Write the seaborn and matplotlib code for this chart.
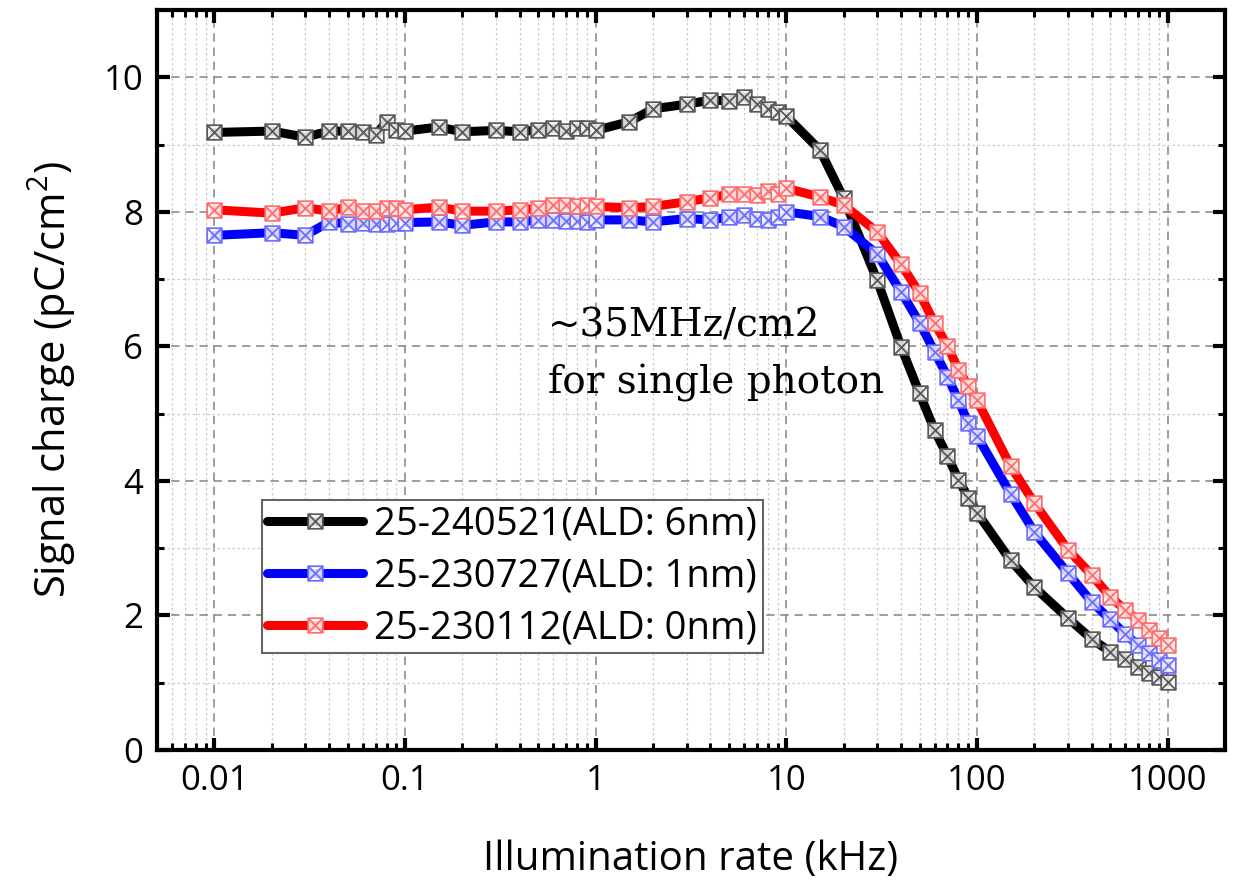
import matplotlib
matplotlib.use("Agg")
import matplotlib.pyplot as plt
import matplotlib.ticker as mticker
from matplotlib.path import Path
import seaborn as sns
import pandas as pd

# ---------------- data ----------------
rate_khz = [0.01, 0.02, 0.03, 0.04, 0.05, 0.06, 0.07, 0.08, 0.09,
            0.1, 0.15, 0.2, 0.3, 0.4, 0.5, 0.6, 0.7, 0.8, 0.9,
            1, 1.5, 2, 3, 4, 5, 6, 7, 8, 9,
            10, 15, 20, 30, 40, 50, 60, 70, 80, 90,
            100, 150, 200, 300, 400, 500, 600, 700, 800, 900, 1000]

s_240521 = [9.18, 9.20, 9.11, 9.20, 9.20, 9.19, 9.14, 9.34, 9.22,
            9.20, 9.26, 9.19, 9.21, 9.19, 9.22, 9.24, 9.20, 9.24, 9.25,
            9.21, 9.34, 9.53, 9.60, 9.66, 9.65, 9.71, 9.61, 9.53, 9.49,
            9.42, 8.92, 8.20, 6.98, 5.99, 5.30, 4.75, 4.37, 4.02, 3.75,
            3.53, 2.82, 2.42, 1.96, 1.65, 1.46, 1.35, 1.24, 1.15, 1.09, 1.01]

s_230727 = [7.65, 7.69, 7.65, 7.85, 7.82, 7.83, 7.82, 7.82, 7.84,
            7.84, 7.85, 7.80, 7.85, 7.85, 7.88, 7.88, 7.87, 7.87, 7.85,
            7.88, 7.88, 7.85, 7.90, 7.88, 7.92, 7.95, 7.89, 7.88, 7.92,
            8.00, 7.93, 7.78, 7.37, 6.81, 6.35, 5.92, 5.55, 5.20, 4.86,
            4.67, 3.81, 3.24, 2.63, 2.20, 1.94, 1.72, 1.56, 1.44, 1.34, 1.26]

s_230112 = [8.03, 7.98, 8.06, 8.01, 8.07, 8.01, 8.01, 8.05, 8.06,
            8.03, 8.07, 8.01, 8.01, 8.03, 8.05, 8.10, 8.10, 8.08, 8.10,
            8.08, 8.06, 8.08, 8.15, 8.21, 8.26, 8.27, 8.25, 8.31, 8.27,
            8.35, 8.22, 8.10, 7.70, 7.22, 6.79, 6.34, 6.01, 5.65, 5.41,
            5.20, 4.22, 3.67, 2.98, 2.60, 2.28, 2.08, 1.93, 1.78, 1.66, 1.56]

series_labels = ["25-240521(ALD: 6nm)", "25-230727(ALD: 1nm)", "25-230112(ALD: 0nm)"]
series_values = [s_240521, s_230727, s_230112]
line_colors = ["#000000", "#0000FF", "#FF0000"]
marker_edge_colors = ["#5a5a5a", "#6f6fff", "#ff6f6f"]

x_tick_values = [0.01, 0.1, 1, 10, 100, 1000]
x_tick_labels = ["0.01", "0.1", "1", "10", "100", "1000"]
y_tick_values = [0, 2, 4, 6, 8, 10]

annotation_lines = ["~35MHz/cm2", "for single photon"]

# ---------------- style ----------------
sns.set_theme(style="ticks")
plt.rcParams["font.family"] = ["Open Sans", "DejaVu Sans"]
plt.rcParams["mathtext.fontset"] = "custom"
plt.rcParams["mathtext.rm"] = "Open Sans"
plt.rcParams["text.color"] = "black"
plt.rcParams["axes.labelcolor"] = "black"
plt.rcParams["xtick.color"] = "black"
plt.rcParams["ytick.color"] = "black"

# square-with-cross marker
verts = [(-1, -1), (1, -1), (1, 1), (-1, 1), (-1, -1),
         (-1, -1), (1, 1), (-1, 1), (1, -1)]
codes = [Path.MOVETO, Path.LINETO, Path.LINETO, Path.LINETO, Path.CLOSEPOLY,
         Path.MOVETO, Path.LINETO, Path.MOVETO, Path.LINETO]
box_x = Path(verts, codes)

fig = plt.figure(figsize=(12.38, 8.83), dpi=100)
ax = fig.add_axes([157 / 1238, 1 - 750 / 883, (1225 - 157) / 1238, (750 - 10) / 883])

for lab, vals, col, mec in zip(series_labels, series_values, line_colors, marker_edge_colors):
    df = pd.DataFrame({"rate": rate_khz, "charge": vals})
    sns.lineplot(data=df, x="rate", y="charge", ax=ax, color=col, lw=6.5,
                 marker=box_x, markersize=10.5, mfc=(1, 1, 1, 0.85), mec=mec,
                 mew=1.3, label=lab, solid_capstyle="round",
                 solid_joinstyle="round", zorder=3)

ax.set_xscale("log")
ax.set_xlim(0.005, 2000)
ax.set_ylim(0, 11)

ax.xaxis.set_major_locator(mticker.FixedLocator(x_tick_values))
ax.xaxis.set_major_formatter(mticker.FixedFormatter(x_tick_labels))
ax.xaxis.set_minor_locator(mticker.LogLocator(base=10, subs=[2, 3, 4, 5, 6, 7, 8, 9], numticks=20))
ax.xaxis.set_minor_formatter(mticker.NullFormatter())
ax.yaxis.set_major_locator(mticker.FixedLocator(y_tick_values))
ax.yaxis.set_minor_locator(mticker.MultipleLocator(1))

ax.tick_params(which="major", direction="in", length=9, width=3, top=True, right=True,
               labelsize=25, pad=10, color="black", labelcolor="black")
ax.tick_params(which="minor", direction="in", length=5, width=2.2, top=True, right=True,
               color="black")

for sp in ax.spines.values():
    sp.set_linewidth(3)
    sp.set_color("black")

ax.set_axisbelow(True)
ax.grid(which="major", color="#8c8c8c", lw=1.2, linestyle=(0, (5, 3.5)))
ax.grid(which="minor", color="#cccccc", lw=0.9, linestyle=(0, (2, 2)))

ax.set_xlabel("Illumination rate (kHz)", fontsize=29, labelpad=30, color="black")
ax.set_ylabel("Signal charge (pC/cm$^2$)", fontsize=30, labelpad=18, color="black")

ax.text(0.56, 6.14, annotation_lines[0], family="DejaVu Serif", fontsize=28,
        ha="left", va="baseline", zorder=5, color="black")
ax.text(0.56, 5.30, annotation_lines[1], family="DejaVu Serif", fontsize=28,
        ha="left", va="baseline", zorder=5, color="black")

leg = ax.legend(loc="lower left", bbox_to_anchor=(0.098, 0.131), borderaxespad=0,
                fontsize=27.5, frameon=True, fancybox=False, numpoints=1,
                handlelength=2.5, handletextpad=0.3, labelspacing=0.36,
                borderpad=0.15)
leg.get_frame().set_edgecolor("#666666")
leg.get_frame().set_linewidth(1.5)
leg.get_frame().set_alpha(1)
for t in leg.get_texts():
    t.set_color("black")

fig.savefig("out.png", dpi=100)
